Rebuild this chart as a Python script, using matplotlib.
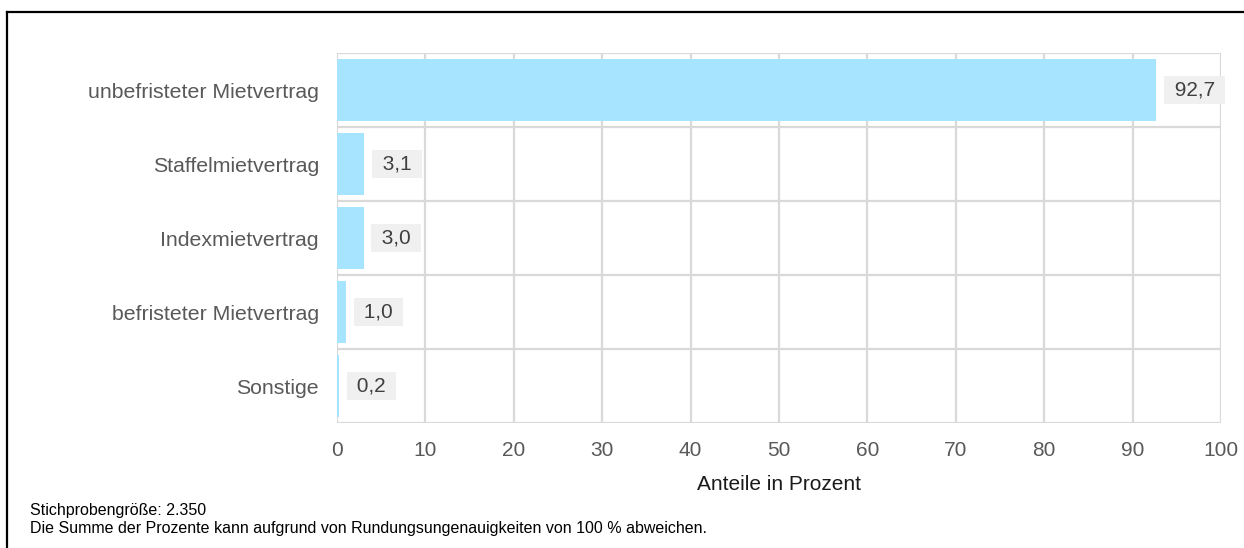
import matplotlib

matplotlib.use("Agg")
import matplotlib.pyplot as plt
from matplotlib.lines import Line2D

plt.rcParams["font.family"] = ["Liberation Sans", "DejaVu Sans"]

categories = [
    "unbefristeter Mietvertrag",
    "Staffelmietvertrag",
    "Indexmietvertrag",
    "befristeter Mietvertrag",
    "Sonstige",
]
shares = [92.7, 3.1, 3.0, 1.0, 0.2]
x_ticks = [0, 10, 20, 30, 40, 50, 60, 70, 80, 90, 100]

BAR_COLOR = "#a6e4ff"
GRID_COLOR = "#d9d9d9"
W, H = 1244, 548

fig = plt.figure(figsize=(W / 100, H / 100), dpi=100)
ax = fig.add_axes([337 / W, 1 - 423 / H, (1221 - 337) / W, (423 - 53) / H])

positions = list(range(len(categories)))
ax.barh(positions, shares, height=0.84, color=BAR_COLOR, zorder=2)

ax.set_xlim(0, 100)
ax.set_ylim(len(categories) - 0.5, -0.5)

# grid: vertical at ticks, horizontal between categories
for t in x_ticks:
    ax.axvline(t, color=GRID_COLOR, lw=1.6, zorder=1)
for b in range(len(categories) + 1):
    ax.axhline(b - 0.5, color=GRID_COLOR, lw=1.6, zorder=1)

for s in ax.spines.values():
    s.set_visible(False)

ax.set_yticks(positions)
ax.set_yticklabels(categories, fontsize=15.3, color="#595959")
ax.set_xticks(x_ticks)
ax.set_xticklabels([str(t) for t in x_ticks], fontsize=15, color="#595959")
ax.tick_params(axis="both", length=0)
ax.tick_params(axis="y", pad=13)
ax.tick_params(axis="x", pad=13)
ax.set_xlabel("Anteile in Prozent", fontsize=15, color="#1a1a1a", labelpad=11)

# value labels in grey boxes
for pos, val in zip(positions, shares):
    ax.annotate(
        " " + f"{val:.1f}".replace(".", ",") + " ",
        xy=(val, pos), xytext=(9, 0), textcoords="offset points",
        va="center", ha="left", fontsize=15, color="#404040", zorder=3,
        bbox=dict(boxstyle="square,pad=0.22", fc="#f0f0f0", ec="none"),
    )

fig.text(30 / W, 1 - 511 / H, "Stichprobengröße: 2.350",
         fontsize=11.5, color="black", va="center")
fig.text(30 / W, 1 - 529 / H,
         "Die Summe der Prozente kann aufgrund von Rundungsungenauigkeiten von 100 % abweichen.",
         fontsize=11.5, color="black", va="center")

# frame lines along top and left edge
fig.add_artist(Line2D([7 / W, 1], [1 - 12 / H, 1 - 12 / H],
                      transform=fig.transFigure, color="black", lw=1.6))
fig.add_artist(Line2D([7 / W, 7 / W], [0, 1 - 12 / H],
                      transform=fig.transFigure, color="black", lw=1.6))

fig.savefig("out.png", dpi=100)
plt.close(fig)
